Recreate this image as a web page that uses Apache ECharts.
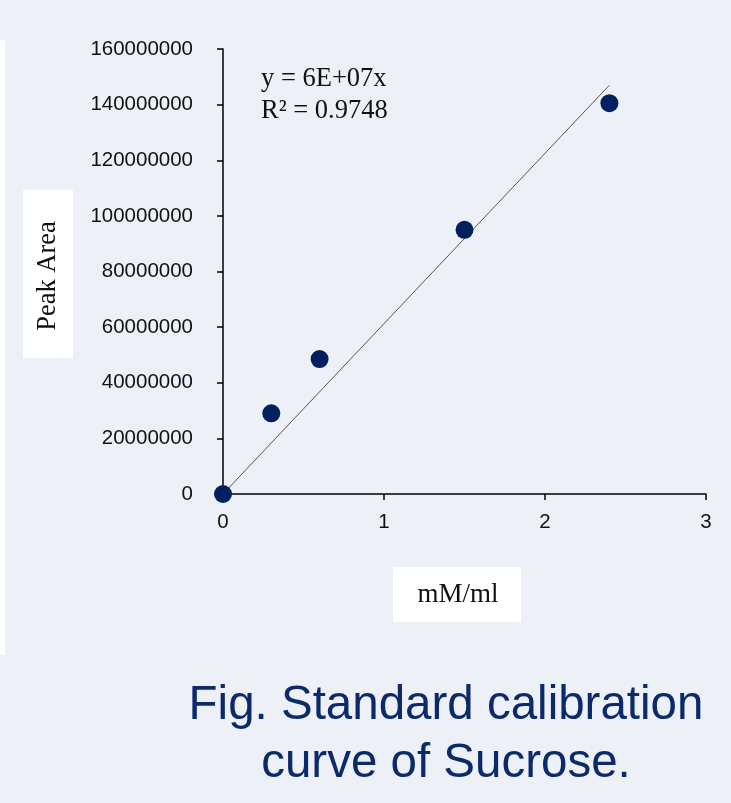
<!DOCTYPE html>
<html>
<head>
<meta charset="utf-8">
<script src="https://cdn.jsdelivr.net/npm/echarts@6/dist/echarts.min.js"></script>
<style>
html,body{margin:0;padding:0;background:#edf1f7;}
#chart{width:731px;height:803px;}
</style>
</head>
<body>
<div id="chart"></div>
<script>
// Data
const concentrations = [0, 0.3, 0.6, 1.5, 2.4];           // mM/ml
const peakAreas = [0, 29000000, 48500000, 95000000, 140500000];
const trendX = [0, 2.4];
const trendY = [0, 147000000];
const yTicks = [0, 20000000, 40000000, 60000000, 80000000, 100000000, 120000000, 140000000, 160000000];
const xTicks = [0, 1, 2, 3];
const equationLines = ['y = 6E+07x', 'R² = 0.9748'];
const xTitle = 'mM/ml';
const yTitle = 'Peak Area';
const captionLines = ['Fig. Standard calibration', 'curve of Sucrose.'];

const chart = echarts.init(document.getElementById('chart'), null, {renderer: 'canvas'});

const option = {
  backgroundColor: '#edf1f7',
  animation: false,
  grid: {left: 223, right: 25, top: 49, bottom: 309, containLabel: false},
  xAxis: {
    type: 'value',
    min: xTicks[0], max: xTicks[xTicks.length - 1], interval: 1,
    axisLine: {show: true, lineStyle: {color: '#000', width: 1.5}},
    axisTick: {show: true, length: 6, lineStyle: {color: '#000', width: 1.5}},
    axisLabel: {color: '#111', fontFamily: 'Liberation Sans', fontSize: 20.5, margin: 18},
    splitLine: {show: false}
  },
  yAxis: {
    type: 'value',
    min: yTicks[0], max: yTicks[yTicks.length - 1], interval: 20000000,
    axisLine: {show: true, lineStyle: {color: '#000', width: 1.5}},
    axisTick: {show: true, length: 6, lineStyle: {color: '#000', width: 1.5}},
    axisLabel: {color: '#111', fontFamily: 'Liberation Sans', fontSize: 20.5, margin: 30,
      formatter: v => String(v)},
    splitLine: {show: false}
  },
  series: [
    {
      type: 'line',
      data: trendX.map((x, i) => [x, trendY[i]]),
      showSymbol: false,
      symbol: 'none',
      lineStyle: {color: '#555', width: 1},
      z: 1
    },
    {
      type: 'scatter',
      data: concentrations.map((x, i) => [x, peakAreas[i]]),
      symbolSize: 18,
      itemStyle: {color: '#002060', opacity: 1},
      z: 3
    }
  ],
  graphic: [
    {type: 'rect', shape: {x: 0, y: 40, width: 5, height: 615}, style: {fill: '#ffffff'}, silent: true},
    {type: 'rect', shape: {x: 23, y: 190, width: 50, height: 168}, style: {fill: '#ffffff'}, silent: true},
    {type: 'text', x: 48, y: 276, rotation: Math.PI / 2,
      style: {text: yTitle, font: '26.5px "Liberation Serif"', fill: '#111', align: 'center', verticalAlign: 'middle'}},
    {type: 'rect', shape: {x: 393, y: 567, width: 128, height: 55}, style: {fill: '#ffffff'}, silent: true},
    {type: 'text', x: 458, y: 595,
      style: {text: xTitle, font: '27px "Liberation Serif"', fill: '#111', align: 'center', verticalAlign: 'middle'}},
    {type: 'text', x: 261, y: 63,
      style: {text: equationLines.join('\n'), font: '26.5px "Liberation Serif"', lineHeight: 32, fill: '#111', align: 'left', verticalAlign: 'top'}},
    {type: 'text', x: 446, y: 677,
      style: {text: captionLines.join('\n'), font: '47.5px "Liberation Sans"', lineHeight: 58, fill: '#0b2a6c', align: 'center', verticalAlign: 'top'}}
  ]
};
chart.setOption(option);
</script>
</body>
</html>
